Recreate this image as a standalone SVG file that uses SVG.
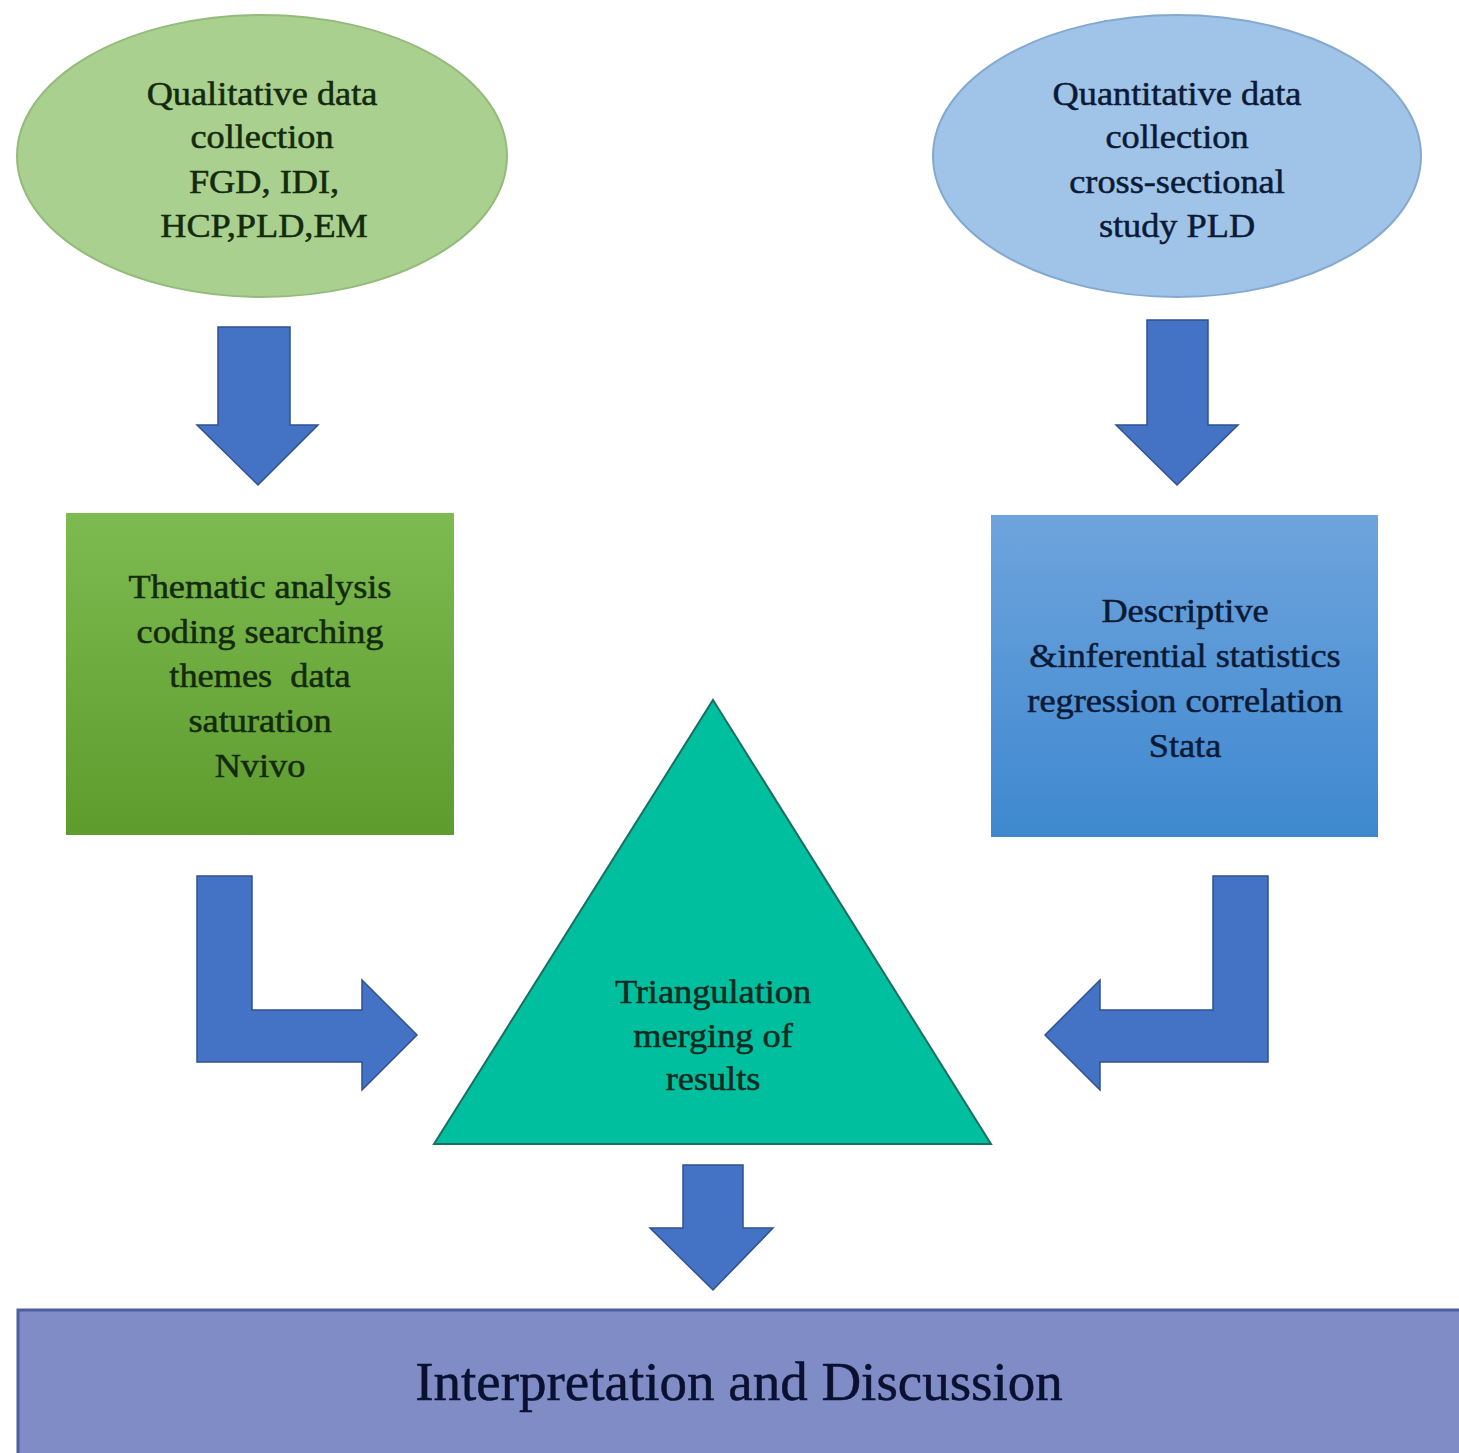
<svg xmlns="http://www.w3.org/2000/svg" width="1459" height="1453" viewBox="0 0 1459 1453">
<style>
.t{font-family:"Liberation Serif","Times New Roman",serif;font-size:33px;text-anchor:middle;stroke-width:0.5px}
.g{fill:#132a0c;stroke:#132a0c}
.b{fill:#0c1a36;stroke:#0c1a36}
.k{fill:#0d2a20;stroke:#0d2a20}
.arrow{fill:#4472c4;stroke:#2f528f;stroke-width:1.5}
</style>
<defs>
<linearGradient id="gg" x1="0" y1="0" x2="0" y2="1"><stop offset="0" stop-color="#7dba50"/><stop offset="1" stop-color="#5e9c2e"/></linearGradient>
<linearGradient id="bg" x1="0" y1="0" x2="0" y2="1"><stop offset="0" stop-color="#6ea4dd"/><stop offset="1" stop-color="#3e88cf"/></linearGradient>
</defs>
<rect width="1459" height="1453" fill="#ffffff"/>

<g id="qual-collection">
<ellipse cx="262" cy="156" rx="245" ry="141" fill="#a9d08e" stroke="#94bb7a" stroke-width="2"/>
<text class="t g" transform="translate(262,105) scale(1.1,1)">Qualitative data</text>
<text class="t g" transform="translate(262,148) scale(1.1,1)">collection</text>
<text class="t g" transform="translate(264,193) scale(1.1,1)">FGD, IDI,</text>
<text class="t g" transform="translate(264,237) scale(1.1,1)">HCP,PLD,EM</text>
</g>

<g id="quant-collection">
<ellipse cx="1177" cy="156" rx="244" ry="141" fill="#9fc4e8" stroke="#84a9d0" stroke-width="2"/>
<text class="t b" transform="translate(1177,105) scale(1.1,1)">Quantitative data</text>
<text class="t b" transform="translate(1177,148) scale(1.1,1)">collection</text>
<text class="t b" transform="translate(1177,193) scale(1.1,1)">cross-sectional</text>
<text class="t b" transform="translate(1177,237) scale(1.1,1)">study PLD</text>
</g>

<g id="thematic-analysis">
<rect x="66" y="513" width="388" height="322" fill="url(#gg)"/>
<text class="t g" transform="translate(260,598) scale(1.1,1)">Thematic analysis</text>
<text class="t g" transform="translate(260,643) scale(1.1,1)">coding searching</text>
<text class="t g" transform="translate(260,687) scale(1.1,1)" xml:space="preserve">themes  data</text>
<text class="t g" transform="translate(260,732) scale(1.1,1)">saturation</text>
<text class="t g" transform="translate(260,777) scale(1.1,1)">Nvivo</text>
</g>

<g id="statistics">
<rect x="991" y="515" width="387" height="322" fill="url(#bg)"/>
<text class="t b" transform="translate(1185,622) scale(1.1,1)">Descriptive</text>
<text class="t b" transform="translate(1185,667) scale(1.1,1)">&amp;inferential statistics</text>
<text class="t b" transform="translate(1185,712) scale(1.1,1)">regression correlation</text>
<text class="t b" transform="translate(1185,757) scale(1.1,1)">Stata</text>
</g>

<g id="triangulation">
<polygon points="713,700 991,1144 434,1144" fill="#00bf9f" stroke="#1b6f62" stroke-width="2"/>
<text class="t k" transform="translate(713,1003) scale(1.1,1)">Triangulation</text>
<text class="t k" transform="translate(713,1047) scale(1.1,1)">merging of</text>
<text class="t k" transform="translate(713,1090) scale(1.1,1)">results</text>
</g>

<g id="interpretation">
<rect x="18" y="1310" width="1445" height="145" fill="#7f8cc6" stroke="#4f5f9e" stroke-width="3"/>
<text x="739" y="1400" font-family="'Liberation Serif','Times New Roman',serif" font-size="55" text-anchor="middle" fill="#0a1030" stroke="#0a1030" stroke-width="0.5">Interpretation and Discussion</text>
</g>

<g id="connectors">
<polygon class="arrow" points="218,327 290,327 290,425 318,425 258,485 197,425 218,425"/>
<polygon class="arrow" points="1147,320 1208,320 1208,425 1238,425 1177,485 1116,425 1147,425"/>
<polygon class="arrow" points="197,876 252,876 252,1010 362,1010 362,980 417,1035 362,1090 362,1062 197,1062"/>
<polygon class="arrow" points="1268,876 1213,876 1213,1010 1100,1010 1100,980 1045,1035 1100,1090 1100,1062 1268,1062"/>
<polygon class="arrow" points="683,1165 743,1165 743,1228 773,1228 713,1290 650,1228 683,1228"/>
</g>
</svg>
